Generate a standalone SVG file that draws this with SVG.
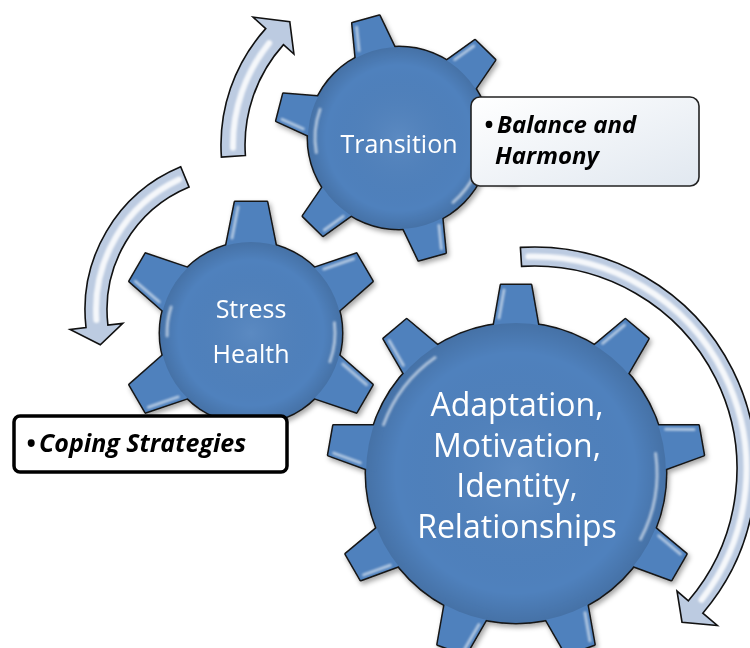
<svg xmlns="http://www.w3.org/2000/svg" xmlns:xlink="http://www.w3.org/1999/xlink" width="750" height="648" viewBox="0 0 750 648">
<defs>
<style>
.gtxt{font-family:"Open Sans","Noto Sans","DejaVu Sans",sans-serif;fill:#ffffff;text-anchor:middle}
.otl{fill:#4f81bd;stroke:#141414;stroke-width:3;stroke-linejoin:round}
.gf{fill:#4f81bd;stroke:none}
.hl{fill:none;stroke:#ffffff;stroke-opacity:0.55;stroke-width:3;stroke-linecap:round}
.arrow{fill:#bccbe1;stroke:#111111;stroke-width:1.6;stroke-linejoin:miter}
.arrhl{fill:none;stroke:#ffffff;stroke-width:6;stroke-opacity:0.85;stroke-linecap:round}
.btxt{font-family:"Open Sans","Noto Sans","DejaVu Sans",sans-serif;font-weight:bold;font-style:italic;fill:#000000}
</style>
<filter id="shadow" x="-20%" y="-20%" width="140%" height="140%">
<feDropShadow dx="2" dy="3" stdDeviation="2.5" flood-color="#000000" flood-opacity="0.35"/>
</filter>
<filter id="soft" x="-20%" y="-20%" width="140%" height="140%">
<feGaussianBlur stdDeviation="1.2"/>
</filter>
<radialGradient id="bodyShade" cx="0.5" cy="0.5" r="0.5">
<stop offset="0" stop-color="#ffffff" stop-opacity="0.07"/>
<stop offset="0.8" stop-color="#000000" stop-opacity="0"/>
<stop offset="1" stop-color="#000000" stop-opacity="0.12"/>
</radialGradient>
<linearGradient id="boxGrad" x1="0" y1="0" x2="1" y2="1">
<stop offset="0" stop-color="#ffffff"/>
<stop offset="1" stop-color="#e1e8f0"/>
</linearGradient>
<polygon id="tooth9" points="138,-23.8 188,-15 188,15 138,23.8"/>
<line id="hl9" x1="155" y1="-17" x2="183" y2="-12"/>
<polygon id="toothT" points="80,-21.6 123,-14 123,14 80,21.6"/>
<line id="hlT" x1="95" y1="-15" x2="118" y2="-11"/>
<polygon id="toothS" points="80,-26.2 131,-16 131,16 80,26.2"/>
<line id="hlS" x1="95" y1="-19" x2="126" y2="-13"/>
</defs>

<rect x="0" y="0" width="750" height="648" fill="#ffffff"/>

<g id="connectors">
<path class="arrow" d="M245.4 155.5 L221.4 157.1 A174 174 0 0 1 265.7 28.6 L253.1 17.2 L289.8 21.8 L293.9 54.0 L283.5 44.6 A150 150 0 0 0 245.4 155.5 Z"/>
<path class="arrhl" filter="url(#soft)" d="M233 147.8 A162 162 0 0 1 269.1 43.1"/>
<path class="arrow" d="M180.7 166.8 A155 155 0 0 0 86.0 327.5 L70.1 329.4 L100.3 344.8 L122.8 323.4 L107.9 325.1 A133 133 0 0 1 189.1 187.1 Z"/>
<path class="arrhl" filter="url(#soft)" d="M179.1 179.5 A144 144 0 0 0 96.4 320"/>
<path class="arrow" d="M520.4 247.4 A222 222 0 0 1 702.8 613.2 L717.3 625.5 L682.0 622.2 L677.0 591.1 L688.4 600.8 A203 203 0 0 0 521.6 266.4 Z"/>
<path class="arrhl" filter="url(#soft)" d="M528.4 256.6 A212.5 212.5 0 0 1 701.5 599.8"/>
</g>

<g id="gear-transition" transform="translate(399,138)">
<g class="otl" filter="url(#shadow)">
<circle r="91"/>
<use xlink:href="#toothT" href="#toothT" transform="rotate(-105.6)"/>
<use xlink:href="#toothT" href="#toothT" transform="rotate(-45.6)"/>
<use xlink:href="#toothT" href="#toothT" transform="rotate(14.4)"/>
<use xlink:href="#toothT" href="#toothT" transform="rotate(74.4)"/>
<use xlink:href="#toothT" href="#toothT" transform="rotate(134.4)"/>
<use xlink:href="#toothT" href="#toothT" transform="rotate(194.4)"/>
</g>
<g class="gf">
<circle r="91"/>
<use xlink:href="#toothT" href="#toothT" transform="rotate(-105.6)"/>
<use xlink:href="#toothT" href="#toothT" transform="rotate(-45.6)"/>
<use xlink:href="#toothT" href="#toothT" transform="rotate(14.4)"/>
<use xlink:href="#toothT" href="#toothT" transform="rotate(74.4)"/>
<use xlink:href="#toothT" href="#toothT" transform="rotate(134.4)"/>
<use xlink:href="#toothT" href="#toothT" transform="rotate(194.4)"/>
</g>
<circle r="91" fill="url(#bodyShade)"/>
<g class="hl" filter="url(#soft)">
<use xlink:href="#hlT" href="#hlT" transform="rotate(-105.6)"/>
<use xlink:href="#hlT" href="#hlT" transform="rotate(-45.6)"/>
<use xlink:href="#hlT" href="#hlT" transform="rotate(74.4)"/>
<use xlink:href="#hlT" href="#hlT" transform="rotate(134.4)"/>
<use xlink:href="#hlT" href="#hlT" transform="rotate(194.4)"/>
<path d="M-78.9 -28.7 A84 84 0 0 0 -82.7 14.6"/>
<path d="M76.1 35.5 A84 84 0 0 1 54 64.3"/>
</g>
<text class="gtxt" x="0" y="15" font-size="25">Transition</text>
</g>

<g id="gear-stress" transform="translate(251,333)">
<g class="otl" filter="url(#shadow)">
<circle r="91"/>
<use xlink:href="#toothS" href="#toothS" transform="rotate(-90)"/>
<use xlink:href="#toothS" href="#toothS" transform="rotate(-30)"/>
<use xlink:href="#toothS" href="#toothS" transform="rotate(30)"/>
<use xlink:href="#toothS" href="#toothS" transform="rotate(90)"/>
<use xlink:href="#toothS" href="#toothS" transform="rotate(150)"/>
<use xlink:href="#toothS" href="#toothS" transform="rotate(210)"/>
</g>
<g class="gf">
<circle r="91"/>
<use xlink:href="#toothS" href="#toothS" transform="rotate(-90)"/>
<use xlink:href="#toothS" href="#toothS" transform="rotate(-30)"/>
<use xlink:href="#toothS" href="#toothS" transform="rotate(30)"/>
<use xlink:href="#toothS" href="#toothS" transform="rotate(90)"/>
<use xlink:href="#toothS" href="#toothS" transform="rotate(150)"/>
<use xlink:href="#toothS" href="#toothS" transform="rotate(210)"/>
</g>
<circle r="91" fill="url(#bodyShade)"/>
<g class="hl" filter="url(#soft)">
<use xlink:href="#hlS" href="#hlS" transform="rotate(-90)"/>
<use xlink:href="#hlS" href="#hlS" transform="rotate(-30)"/>
<use xlink:href="#hlS" href="#hlS" transform="rotate(30)"/>
<use xlink:href="#hlS" href="#hlS" transform="rotate(150)"/>
<use xlink:href="#hlS" href="#hlS" transform="rotate(210)"/>
<path d="M-79.9 -26 A84 84 0 0 0 -83.9 2.9"/>
<path d="M83.4 -10.2 A84 84 0 0 1 78.9 28.7"/>
</g>
<text class="gtxt" font-size="25"><tspan x="0" y="-15">Stress</tspan><tspan x="0" y="30">Health</tspan></text>
</g>

<g id="gear-adaptation" transform="translate(516,473)">
<g class="otl" filter="url(#shadow)">
<circle r="150"/>
<use xlink:href="#tooth9" href="#tooth9" transform="rotate(-10)"/>
<use xlink:href="#tooth9" href="#tooth9" transform="rotate(30)"/>
<use xlink:href="#tooth9" href="#tooth9" transform="rotate(70)"/>
<use xlink:href="#tooth9" href="#tooth9" transform="rotate(110)"/>
<use xlink:href="#tooth9" href="#tooth9" transform="rotate(150)"/>
<use xlink:href="#tooth9" href="#tooth9" transform="rotate(190)"/>
<use xlink:href="#tooth9" href="#tooth9" transform="rotate(230)"/>
<use xlink:href="#tooth9" href="#tooth9" transform="rotate(270)"/>
<use xlink:href="#tooth9" href="#tooth9" transform="rotate(310)"/>
</g>
<g class="gf">
<circle r="150"/>
<use xlink:href="#tooth9" href="#tooth9" transform="rotate(-10)"/>
<use xlink:href="#tooth9" href="#tooth9" transform="rotate(30)"/>
<use xlink:href="#tooth9" href="#tooth9" transform="rotate(70)"/>
<use xlink:href="#tooth9" href="#tooth9" transform="rotate(110)"/>
<use xlink:href="#tooth9" href="#tooth9" transform="rotate(150)"/>
<use xlink:href="#tooth9" href="#tooth9" transform="rotate(190)"/>
<use xlink:href="#tooth9" href="#tooth9" transform="rotate(230)"/>
<use xlink:href="#tooth9" href="#tooth9" transform="rotate(270)"/>
<use xlink:href="#tooth9" href="#tooth9" transform="rotate(310)"/>
</g>
<circle r="150" fill="url(#bodyShade)"/>
<g class="hl" filter="url(#soft)">
<use xlink:href="#hl9" href="#hl9" transform="rotate(-10)"/>
<use xlink:href="#hl9" href="#hl9" transform="rotate(30)"/>
<use xlink:href="#hl9" href="#hl9" transform="rotate(70)"/>
<use xlink:href="#hl9" href="#hl9" transform="rotate(110)"/>
<use xlink:href="#hl9" href="#hl9" transform="rotate(150)"/>
<use xlink:href="#hl9" href="#hl9" transform="rotate(190)"/>
<use xlink:href="#hl9" href="#hl9" transform="rotate(230)"/>
<use xlink:href="#hl9" href="#hl9" transform="rotate(270)"/>
<use xlink:href="#hl9" href="#hl9" transform="rotate(310)"/>
<path d="M-132.5 -48.2 A141 141 0 0 1 -80.9 -115.5"/>
<path d="M139.6 -19.6 A141 141 0 0 1 124.5 66.2"/>
</g>
<text class="gtxt" font-size="32"><tspan x="1" y="-57">Adaptation,</tspan><tspan x="1" y="-16">Motivation,</tspan><tspan x="1" y="24">Identity,</tspan><tspan x="1" y="65">Relationships</tspan></text>
</g>

<g id="box-balance">
<rect x="471" y="97" width="228" height="89" rx="9" ry="9" fill="url(#boxGrad)" stroke="#222222" stroke-width="1.6"/>
<text class="btxt" font-size="24"><tspan x="484" y="133">•</tspan><tspan x="497" y="133">Balance and</tspan><tspan x="495" y="164">Harmony</tspan></text>
</g>

<g id="box-coping">
<rect x="14" y="416" width="273" height="56" rx="6" ry="6" fill="#ffffff" stroke="#000000" stroke-width="3.5"/>
<text class="btxt" font-size="25"><tspan x="26" y="452">•</tspan><tspan x="39" y="452">Coping Strategies</tspan></text>
</g>
</svg>
